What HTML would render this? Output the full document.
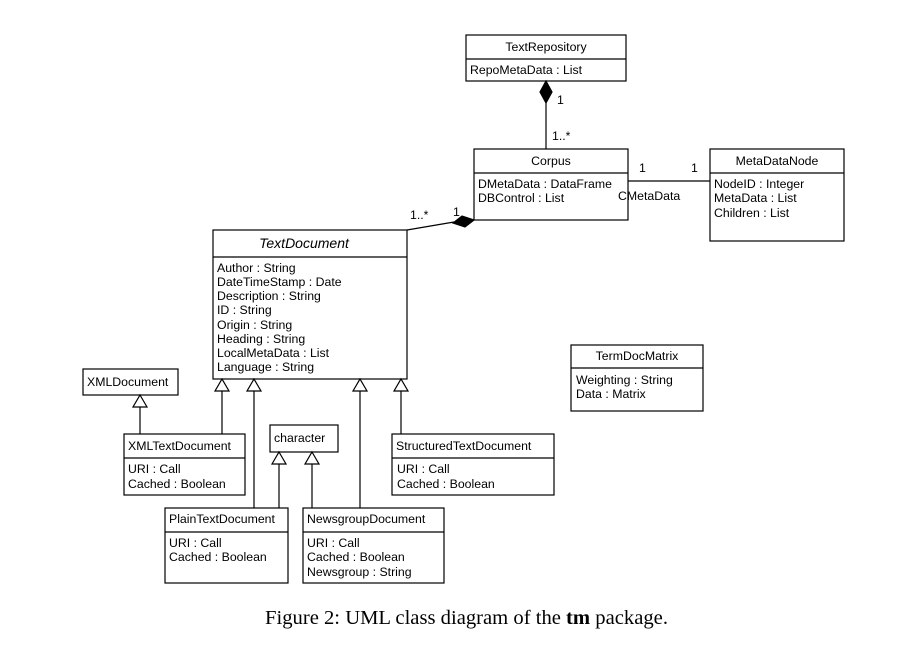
<!DOCTYPE html>
<html><head><meta charset="utf-8"><style>
html,body{margin:0;padding:0;background:#fff;}
svg{display:block;}
text{font-family:"Liberation Sans",sans-serif;font-size:12.3px;fill:#000;}
.c{font-family:"Liberation Serif",serif;font-size:20px;}
</style></head><body>
<svg width="911" height="663" viewBox="0 0 911 663" xmlns="http://www.w3.org/2000/svg">
<g fill="#fff" stroke="#000" stroke-width="1.2">
<rect x="466" y="35" width="160" height="46"/><line x1="466" y1="59" x2="626" y2="59"/>
<rect x="474" y="149" width="154" height="71"/><line x1="474" y1="173" x2="628" y2="173"/>
<rect x="710" y="149" width="134" height="92"/><line x1="710" y1="173" x2="844" y2="173"/>
<rect x="213" y="230" width="194" height="149"/><line x1="213" y1="257" x2="407" y2="257"/>
<rect x="571" y="345" width="132" height="66"/><line x1="571" y1="368" x2="703" y2="368"/>
<rect x="83" y="369" width="95" height="26"/>
<rect x="124" y="434" width="121" height="61"/><line x1="124" y1="458" x2="245" y2="458"/>
<rect x="270" y="425" width="68" height="27"/>
<rect x="392" y="434" width="162" height="61"/><line x1="392" y1="458" x2="554" y2="458"/>
<rect x="165" y="508" width="123" height="75"/><line x1="165" y1="532" x2="288" y2="532"/>
<rect x="303" y="508" width="141" height="75"/><line x1="303" y1="532" x2="444" y2="532"/>
<line x1="546" y1="103" x2="546" y2="149"/>
<polygon points="546,81 552,92 546,103 540,92" fill="#000"/>
<line x1="628" y1="181" x2="710" y2="181"/>
<line x1="407" y1="230" x2="454" y2="222"/>
<polygon points="474,220 465,227 453,223 462,216" fill="#000"/>
<line x1="140" y1="407" x2="140" y2="434"/><polygon points="140,395 147,407 133,407"/>
<line x1="222" y1="391" x2="222" y2="434"/><polygon points="222,379 229,391 215,391"/>
<line x1="254" y1="391" x2="254" y2="508"/><polygon points="254,379 261,391 247,391"/>
<line x1="360" y1="391" x2="360" y2="508"/><polygon points="360,379 367,391 353,391"/>
<line x1="401" y1="391" x2="401" y2="434"/><polygon points="401,379 408,391 394,391"/>
<line x1="279" y1="464" x2="279" y2="508"/><polygon points="279,452 286,464 272,464"/>
<line x1="312" y1="464" x2="312" y2="508"/><polygon points="312,452 319,464 305,464"/>
</g>
<g>
<text x="546" y="51" text-anchor="middle">TextRepository</text>
<text x="470" y="74">RepoMetaData : List</text>
<text x="551" y="165" text-anchor="middle">Corpus</text>
<text x="478" y="188">DMetaData : DataFrame</text>
<text x="478" y="202">DBControl : List</text>
<text x="777" y="165" text-anchor="middle">MetaDataNode</text>
<text x="714" y="188">NodeID : Integer</text>
<text x="714" y="202">MetaData : List</text>
<text x="714" y="217">Children : List</text>
<text x="304" y="248" text-anchor="middle" style="font-style:italic;font-size:14px">TextDocument</text>
<text x="217" y="272">Author : String</text>
<text x="217" y="286">DateTimeStamp : Date</text>
<text x="217" y="300">Description : String</text>
<text x="217" y="314">ID : String</text>
<text x="217" y="329">Origin : String</text>
<text x="217" y="343">Heading : String</text>
<text x="217" y="357">LocalMetaData : List</text>
<text x="217" y="371">Language : String</text>
<text x="637" y="360" text-anchor="middle">TermDocMatrix</text>
<text x="576" y="384">Weighting : String</text>
<text x="576" y="398">Data : Matrix</text>
<text x="87" y="386">XMLDocument</text>
<text x="128" y="450">XMLTextDocument</text>
<text x="128" y="473">URI : Call</text>
<text x="128" y="488">Cached : Boolean</text>
<text x="274" y="442">character</text>
<text x="396" y="450">StructuredTextDocument</text>
<text x="397" y="473">URI : Call</text>
<text x="397" y="488">Cached : Boolean</text>
<text x="169" y="523">PlainTextDocument</text>
<text x="169" y="547">URI : Call</text>
<text x="169" y="561">Cached : Boolean</text>
<text x="307" y="523">NewsgroupDocument</text>
<text x="307" y="547">URI : Call</text>
<text x="307" y="561">Cached : Boolean</text>
<text x="307" y="576">Newsgroup : String</text>
<text x="557" y="104">1</text>
<text x="552" y="140">1..*</text>
<text x="639" y="172">1</text>
<text x="691" y="172">1</text>
<text x="618" y="200">CMetaData</text>
<text x="410" y="219">1..*</text>
<text x="453" y="216">1</text>
<text class="c" x="265" y="624" textLength="403" lengthAdjust="spacingAndGlyphs">Figure 2: UML class diagram of the <tspan font-weight="bold">tm</tspan> package.</text>
</g>
</svg>
</body></html>
